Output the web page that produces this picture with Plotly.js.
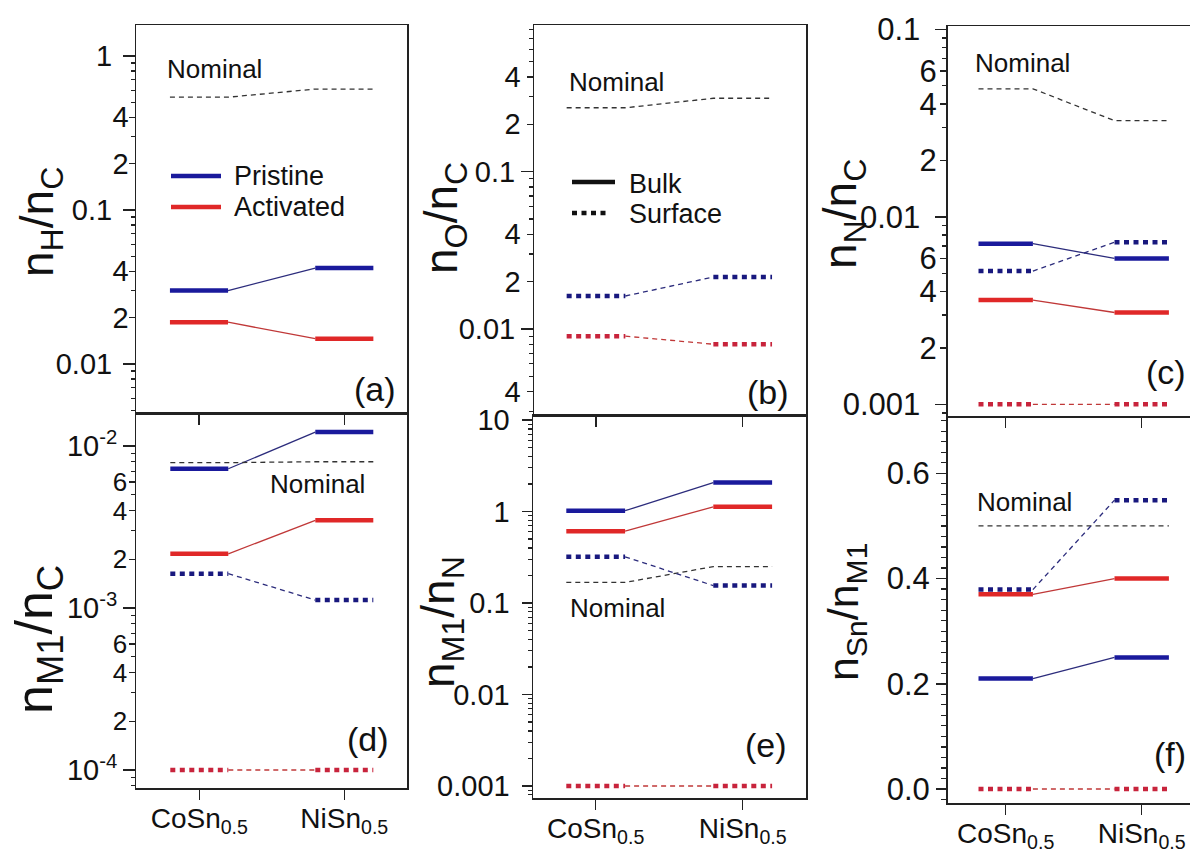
<!DOCTYPE html>
<html><head><meta charset="utf-8">
<script src="https://cdn.plot.ly/plotly-3.0.1.min.js"></script>
<style>html,body{margin:0;padding:0;overflow:hidden;background:#fff}#chart{width:1200px;height:853px}</style>
</head><body><div id="chart"></div>
<script>
// ---------------- data ----------------
const categories = ['CoSn<sub>0.5</sub>', 'NiSn<sub>0.5</sub>'];

// (a) nH/nC
const a_nominal = [0.54, 0.61];
const a_pristine_bulk = [0.030, 0.042];
const a_activated_bulk = [0.0187, 0.0146];
// (b) nO/nC
const b_nominal = [0.255, 0.293];
const b_pristine_surface = [0.0162, 0.0214];
const b_activated_surface = [0.0090, 0.0080];
// (c) nN/nC
const c_nominal = [0.0482, 0.0326];
const c_pristine_bulk = [0.0072, 0.0060];
const c_pristine_surface = [0.00514, 0.00732];
const c_activated_bulk = [0.0036, 0.00309];
const c_activated_surface = [0.001, 0.001];
// (d) nM1/nC
const d_nominal = [0.0079, 0.0080];
const d_pristine_bulk = [0.00724, 0.0122];
const d_activated_bulk = [0.00216, 0.00348];
const d_pristine_surface = [0.00163, 0.00112];
const d_activated_surface = [0.0001, 0.0001];
// (e) nM1/nN
const e_nominal = [0.168, 0.25];
const e_pristine_bulk = [1.02, 2.07];
const e_activated_bulk = [0.61, 1.125];
const e_pristine_surface = [0.32, 0.155];
const e_activated_surface = [0.001, 0.001];
// (f) nSn/nM1
const f_nominal = [0.5, 0.5];
const f_pristine_bulk = [0.21, 0.25];
const f_activated_bulk = [0.37, 0.40];
const f_pristine_surface = [0.379, 0.549];
const f_activated_surface = [0, 0];

// tick labels
const a_ticks = [0.02, 0.04, 0.2, 0.4], a_tick_text = ['2', '4', '2', '4'];
const a_dec = [0.01, 0.1, 1], a_dec_text = ['0.01', '0.1', '1'];
const b_ticks = [0.004, 0.02, 0.04, 0.2, 0.4], b_tick_text = ['4', '2', '4', '2', '4'];
const b_dec = [0.01, 0.1], b_dec_text = ['0.01', '0.1'];
const c_ticks = [0.002, 0.004, 0.006, 0.02, 0.04, 0.06], c_tick_text = ['2', '4', '6', '2', '4', '6'];
const c_dec = [0.001, 0.01, 0.1], c_dec_text = ['0.001', '0.01', '0.1'];
const d_ticks = [0.0002, 0.0004, 0.0006, 0.002, 0.004, 0.006], d_tick_text = ['2', '4', '6', '2', '4', '6'];
const d_dec = [0.0001, 0.001, 0.01], d_dec_text = ['10<sup>-4</sup>', '10<sup>-3</sup>', '10<sup>-2</sup>'];
const e_dec = [0.001, 0.01, 0.1, 1, 10], e_dec_text = ['0.001', '0.01', '0.1', '1', '10'];
const f_ticks = [0.0, 0.2, 0.4, 0.6], f_tick_text = ['0.0', '0.2', '0.4', '0.6'];

// ---------------- layout helpers ----------------
const W = 1200, H = 853;
const FONT = 'Arial, "Liberation Sans", sans-serif';
const BLUE = '#1a1a9c', RED = '#e02828', BLUE_S = '#18187e', RED_S = '#c8243c';
const BLUE_C = '#2c2c7c', RED_C = '#c03838', NOM = '#333333', AX = '#222222';
const HW = 0.2;

const P = {
  a: {l: 136, t: 25, r: 407, b: 413, xt: [199, 344.3], yr: [-2.318, 0.2013]},
  b: {l: 534, t: 25, r: 806, b: 415, xt: [596, 742.7], yr: [-2.547, -0.0674]},
  c: {l: 947.5, t: 26, r: 1200, b: 416, xt: [1005.7, 1141.7], yr: [-3.062, -0.982]},
  d: {l: 136, t: 413, r: 407, b: 788, xt: [199.3, 344.3], yr: [-4.111, -1.796]},
  e: {l: 533, t: 415, r: 806, b: 798, xt: [595.7, 742.7], yr: [-3.131, 1.055]},
  f: {l: 947.5, t: 417, r: 1200, b: 803, xt: [1005.7, 1141.7], yr: [-0.0266, 0.707]}
};
const px = v => v / W, py = v => 1 - v / H;

function minorLog(yr) {
  const out = [];
  for (let e = Math.floor(yr[0]) - 1; e <= Math.ceil(yr[1]); e++) {
    for (let d = 2; d <= 9; d++) out.push(d * Math.pow(10, e));
  }
  return out;
}

const traces = [];
function series(xa, ya, vals, kind, color, connColor) {
  const base = {type: 'scatter', mode: 'lines', xaxis: xa, yaxis: ya, hoverinfo: 'skip', showlegend: false};
  if (kind === 'nominal') {
    traces.push(Object.assign({}, base, {
      x: [0 - HW, 0 + HW, 1 - HW, 1 + HW], y: [vals[0], vals[0], vals[1], vals[1]],
      line: {color: NOM, width: 1.3, dash: '5px,4px'}
    }));
    return;
  }
  const surf = kind === 'surface';
  traces.push(Object.assign({}, base, {
    x: [0 + HW, 1 - HW], y: [vals[0], vals[1]],
    line: {color: connColor, width: 1.3, dash: surf ? '5px,4px' : 'solid'}
  }));
  vals.forEach((v, i) => {
    traces.push(Object.assign({}, base, {
      x: [i - HW, i + HW], y: [v, v],
      line: {color: color, width: 4.5, dash: surf ? '5px,4.5px' : 'solid'}
    }));
  });
}

// (a)
series('x', 'y7', a_nominal, 'nominal');
series('x', 'y', a_pristine_bulk, 'bulk', BLUE, BLUE_C);
series('x', 'y', a_activated_bulk, 'bulk', RED, RED_C);
// (b)
series('x2', 'y8', b_nominal, 'nominal');
series('x2', 'y2', b_pristine_surface, 'surface', BLUE_S, BLUE_C);
series('x2', 'y2', b_activated_surface, 'surface', RED_S, RED_C);
// (c)
series('x3', 'y9', c_nominal, 'nominal');
series('x3', 'y3', c_pristine_bulk, 'bulk', BLUE, BLUE_C);
series('x3', 'y3', c_pristine_surface, 'surface', BLUE_S, BLUE_C);
series('x3', 'y3', c_activated_bulk, 'bulk', RED, RED_C);
series('x3', 'y3', c_activated_surface, 'surface', RED_S, RED_C);
// (d)
series('x4', 'y10', d_nominal, 'nominal');
series('x4', 'y4', d_pristine_bulk, 'bulk', BLUE, BLUE_C);
series('x4', 'y4', d_activated_bulk, 'bulk', RED, RED_C);
series('x4', 'y4', d_pristine_surface, 'surface', BLUE_S, BLUE_C);
series('x4', 'y4', d_activated_surface, 'surface', RED_S, RED_C);
// (e)
series('x5', 'y5', e_nominal, 'nominal');
series('x5', 'y5', e_pristine_bulk, 'bulk', BLUE, BLUE_C);
series('x5', 'y5', e_activated_bulk, 'bulk', RED, RED_C);
series('x5', 'y5', e_pristine_surface, 'surface', BLUE_S, BLUE_C);
series('x5', 'y5', e_activated_surface, 'surface', RED_S, RED_C);
// (f)
series('x6', 'y6', f_nominal, 'nominal');
series('x6', 'y6', f_pristine_bulk, 'bulk', BLUE, BLUE_C);
series('x6', 'y6', f_activated_bulk, 'bulk', RED, RED_C);
series('x6', 'y6', f_pristine_surface, 'surface', BLUE_S, BLUE_C);
series('x6', 'y6', f_activated_surface, 'surface', RED_S, RED_C);

function xaxis(p, yname, showLabels) {
  const s = p.xt[1] - p.xt[0];
  return {
    domain: [px(p.l), px(p.r)], range: [(p.l - p.xt[0]) / s, (p.r - p.xt[0]) / s], anchor: yname,
    tickmode: 'array', tickvals: [0, 1], ticktext: categories, showticklabels: showLabels,
    ticks: 'outside', ticklen: 10, tickwidth: 1.5, tickcolor: AX, ticklabelstandoff: -5,
    showline: true, linecolor: AX, linewidth: 1.5, mirror: true,
    showgrid: false, zeroline: false, fixedrange: true,
    tickfont: {family: FONT, size: 28, color: '#111'}
  };
}
function ylog(p, xname, tv, tt, fs, so) {
  return {
    domain: [py(p.b), py(p.t)], type: 'log', range: p.yr, anchor: xname,
    tickmode: 'array', tickvals: tv, ticktext: tt,
    ticks: 'outside', ticklen: 6, tickwidth: 1.5, tickcolor: AX, ticklabelstandoff: so,
    minor: {tickmode: 'array', tickvals: minorLog(p.yr), ticks: 'outside', ticklen: 4, tickwidth: 1.2, tickcolor: AX},
    showline: true, linecolor: AX, linewidth: 1.5, mirror: true,
    showgrid: false, zeroline: false, fixedrange: true,
    tickfont: {family: FONT, size: fs, color: '#111'}
  };
}
function ydec(p, xname, over, tv, tt, fs, so) {
  return {
    overlaying: over, side: 'left', type: 'log', range: p.yr, anchor: xname,
    tickmode: 'array', tickvals: tv, ticktext: tt,
    ticks: 'outside', ticklen: 12, tickwidth: 1.5, tickcolor: AX, ticklabelstandoff: so,
    showline: false, showgrid: false, zeroline: false, fixedrange: true,
    tickfont: {family: FONT, size: fs, color: '#111'}
  };
}

const layout = {
  width: W, height: H, margin: {l: 0, r: 0, t: 0, b: 0},
  paper_bgcolor: '#fff', plot_bgcolor: 'rgba(0,0,0,0)', showlegend: false,
  font: {family: FONT, color: '#111'},
  xaxis: xaxis(P.a, 'y', false),
  xaxis2: xaxis(P.b, 'y2', false),
  xaxis3: xaxis(P.c, 'y3', false),
  xaxis4: xaxis(P.d, 'y4', true),
  xaxis5: xaxis(P.e, 'y5', true),
  xaxis6: xaxis(P.f, 'y6', true),
  yaxis: ylog(P.a, 'x', a_ticks, a_tick_text, 29, -6),
  yaxis2: ylog(P.b, 'x2', b_ticks, b_tick_text, 29, 0),
  yaxis3: ylog(P.c, 'x3', c_ticks, c_tick_text, 31, -3),
  yaxis4: ylog(P.d, 'x4', d_ticks, d_tick_text, 26, -4),
  yaxis5: Object.assign(ylog(P.e, 'x5', e_dec, e_dec_text, 29, 6), {ticklen: 10}),
  yaxis6: {
    domain: [py(P.f.b), py(P.f.t)], range: P.f.yr, anchor: 'x6',
    tickmode: 'array', tickvals: f_ticks, ticktext: f_tick_text,
    ticks: 'outside', ticklen: 10, tickwidth: 1.5, tickcolor: AX, ticklabelstandoff: 0,
    minor: {dtick: 0.02, ticks: 'outside', ticklen: 5, tickwidth: 1.2, tickcolor: AX},
    showline: true, linecolor: AX, linewidth: 1.5, mirror: true,
    showgrid: false, zeroline: false, fixedrange: true,
    tickfont: {family: FONT, size: 31, color: '#111'}
  },
  yaxis7: ydec(P.a, 'x', 'y', a_dec, a_dec_text, 29, 5),
  yaxis8: ydec(P.b, 'x2', 'y2', b_dec, b_dec_text, 29, 0),
  yaxis9: ydec(P.c, 'x3', 'y3', c_dec, c_dec_text, 31, 8),
  yaxis10: ydec(P.d, 'x4', 'y4', d_dec, d_dec_text, 29, 0),
  shapes: [], annotations: []
};

function ann(text, x, y, size, opts) {
  layout.annotations.push(Object.assign({
    text: text, xref: 'paper', yref: 'paper', x: px(x), y: py(y),
    showarrow: false, xanchor: 'left', yanchor: 'middle',
    font: {family: FONT, size: size, color: '#111'}
  }, opts || {}));
}
function yTitle(text, x, y, size) {
  ann(text, x, y, size, {textangle: -90, xanchor: 'center', yanchor: 'middle'});
}
// axis titles
yTitle('n<sub>H</sub>/n<sub>C</sub>', 40, 222, 46);
yTitle('n<sub>O</sub>/n<sub>C</sub>', 444, 218, 46);
yTitle('n<sub>N</sub>/n<sub>C</sub>', 843, 214, 46);
yTitle('n<sub>M1</sub>/n<sub>C</sub>', 38, 640, 52);
yTitle('n<sub>M1</sub>/n<sub>N</sub>', 441, 622, 46);
yTitle('n<sub>Sn</sub>/n<sub>M1</sub>', 846, 612, 43);
// Nominal labels
ann('Nominal', 165, 69, 26);
ann('Nominal', 567, 82, 26);
ann('Nominal', 973, 63, 26);
ann('Nominal', 268, 484, 26);
ann('Nominal', 568, 608, 26);
ann('Nominal', 975, 502, 26);
// panel letters
ann('(a)', 398, 389, 34, {xanchor: 'right'});
ann('(b)', 791, 392, 34, {xanchor: 'right'});
ann('(c)', 1188, 372, 34, {xanchor: 'right'});
ann('(d)', 391, 739, 34, {xanchor: 'right'});
ann('(e)', 789, 745, 34, {xanchor: 'right'});
ann('(f)', 1188, 754, 34, {xanchor: 'right'});
// legends
function legLine(x0, x1, y, color, dash) {
  layout.shapes.push({type: 'line', xref: 'paper', yref: 'paper', x0: px(x0), x1: px(x1), y0: py(y), y1: py(y),
    line: {color: color, width: 4.5, dash: dash || 'solid'}});
}
legLine(171, 221, 176, BLUE); ann('Pristine', 232, 176, 27);
legLine(171, 221, 207, RED); ann('Activated', 232, 207, 27);
legLine(572, 615, 182, '#111'); ann('Bulk', 627, 184, 27);
legLine(572, 609, 213, '#111', '5px,4.5px'); ann('Surface', 627, 214, 27);

Plotly.newPlot('chart', traces, layout, {staticPlot: true, displayModeBar: false});
</script>
</body></html>
